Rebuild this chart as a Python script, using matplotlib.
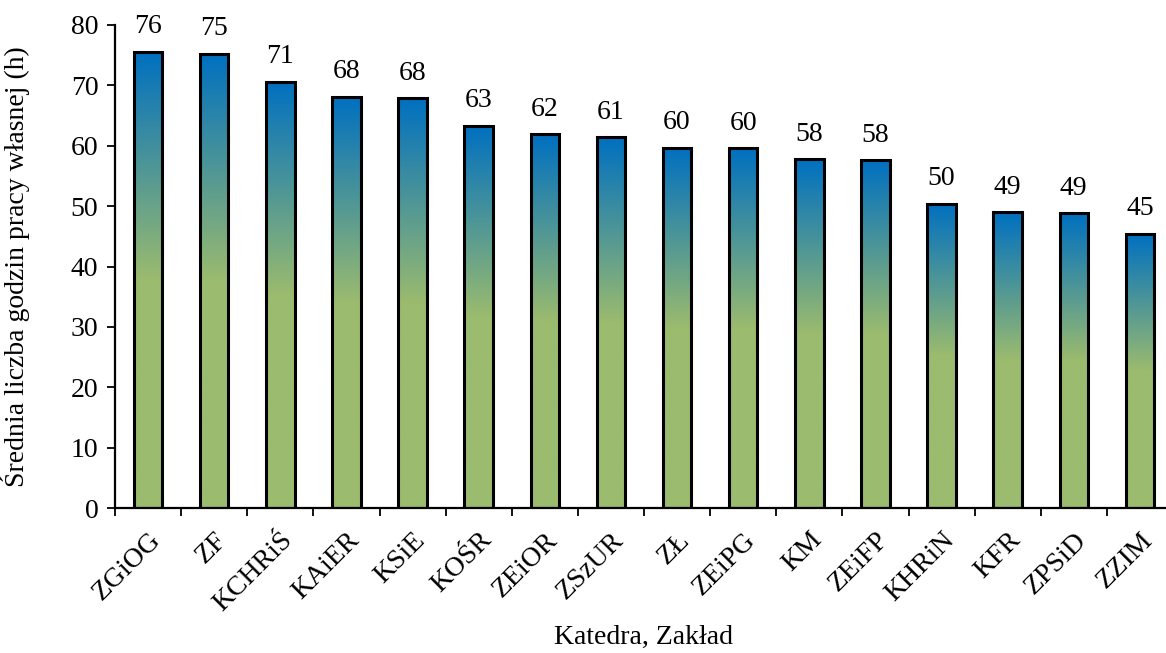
import matplotlib.pyplot as plt
import numpy as np
from matplotlib.colors import LinearSegmentedColormap

plt.rcParams['font.family'] = ['Liberation Serif', 'DejaVu Serif']

# data
kategorie = ['ZGiOG', 'ZF', 'KCHRiŚ', 'KAiER', 'KSiE', 'KOŚR', 'ZEiOR', 'ZSzUR',
             'ZŁ', 'ZEiPG', 'KM', 'ZEiFP', 'KHRiN', 'KFR', 'ZPSiD', 'ZZIM']
godziny = [75.6, 75.2, 70.6, 68.1, 67.9, 63.3, 61.9, 61.4,
           59.7, 59.6, 57.8, 57.6, 50.4, 49.0, 48.8, 45.4]

zielony = '#9BBB6E'
niebieski = '#0070C0'
cmap = LinearSegmentedColormap.from_list('grad', [(0, zielony), (0.5, zielony), (1, niebieski)])

fig = plt.figure(figsize=(11.66, 6.53), dpi=100)
W, H = 1166, 653
ax = fig.add_axes([115 / W, (H - 508) / H, (1173 - 115) / W, (508 - 25) / H])

x = np.arange(len(kategorie))
bars = ax.bar(x, godziny, width=0.43, facecolor='none', edgecolor='black', linewidth=2.2, zorder=3)

grad = np.linspace(0, 1, 256).reshape(-1, 1)
for b, v in zip(bars, godziny):
    x0 = b.get_x()
    im = ax.imshow(grad, cmap=cmap, origin='lower', aspect='auto',
                   extent=[x0, x0 + b.get_width(), 0, v], zorder=2)
    im.set_clip_path(b)
    ax.annotate(f'{v:.0f}', (b.get_x() + b.get_width() / 2, v), xytext=(0, 9),
                textcoords='offset points', ha='center', va='bottom', fontsize=20)

ax.set_xlim(-0.5, len(kategorie) - 0.5)
ax.set_ylim(0, 80)
ax.set_yticks(range(0, 81, 10))

ax.set_xticks(np.arange(-0.5, len(kategorie), 1))
ax.set_xticklabels([])
ax.set_xticks(x, minor=True)
ax.set_xticklabels(kategorie, minor=True, rotation=45, ha='right', rotation_mode='anchor', fontsize=20)
ax.tick_params(axis='x', which='minor', length=0, pad=14)
ax.tick_params(axis='x', which='major', length=6, width=1.3, direction='out')
ax.tick_params(axis='y', length=6, width=1.3, direction='out', labelsize=20, pad=6)

for s in ['top', 'right']:
    ax.spines[s].set_visible(False)
for s in ['left', 'bottom']:
    ax.spines[s].set_linewidth(1.6)

ax.set_ylabel('Średnia liczba godzin pracy własnej (h)', fontsize=20)
ax.yaxis.set_label_coords(-85 / 1058, 0.5)
fig.text(644 / W, 1 - 637 / H, 'Katedra, Zakład', ha='center', va='center', fontsize=20)

fig.savefig('out.png', dpi=100)
